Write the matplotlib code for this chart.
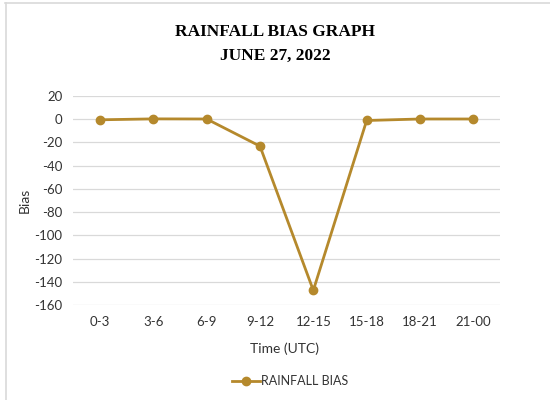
import matplotlib
matplotlib.use("Agg")
import matplotlib.pyplot as plt
from matplotlib.lines import Line2D

categories = ["0-3", "3-6", "6-9", "9-12", "12-15", "15-18", "18-21", "21-00"]
bias = [-0.5, 0.3, 0.2, -23.2, -147.4, -1.1, 0.2, 0.2]
yticks = [20, 0, -20, -40, -60, -80, -100, -120, -140, -160]

color = "#B5892C"
sans = ["Lato", "DejaVu Sans"]

fig = plt.figure(figsize=(5.5, 4), dpi=100)
ax = fig.add_axes([73.3/550, 1-305/400, (500-73.3)/550, (305-96)/400])

x = list(range(len(categories)))
ax.plot(x, bias, color=color, lw=2, marker="o", ms=6, label="RAINFALL BIAS", zorder=3)
ax.set_xlim(-0.5, len(categories)-0.5)
ax.set_ylim(-160, 20)
ax.set_yticks(yticks)
ax.set_xticks(x)
ax.set_xticklabels(categories, fontfamily=sans, fontsize=9.5, color="#333333")
ax.set_yticklabels([str(v) for v in yticks], fontfamily=sans, fontsize=9.5, color="#333333")
ax.tick_params(length=0, pad=8)
ax.grid(axis="y", color="#D9D9D9", lw=0.9)
ax.set_axisbelow(True)
for s in ax.spines.values():
    s.set_visible(False)

fig.text(25/550, 1-200/400, "Bias", rotation=90, ha="center", va="center",
         fontfamily=sans, fontsize=10, color="#333333")
fig.text(285/550, 1-349/400, "Time (UTC)", ha="center", va="center",
         fontfamily=sans, fontsize=10, color="#333333")
fig.text(275/550, 1-32/400, "RAINFALL BIAS GRAPH", ha="center", va="center",
         fontfamily="Liberation Serif", fontweight="bold", fontsize=12.5)
fig.text(275/550, 1-56/400, "JUNE 27, 2022", ha="center", va="center",
         fontfamily="Liberation Serif", fontweight="bold", fontsize=12.5)

leg = fig.legend(handles=[Line2D([], [], color=color, lw=2, marker="o", ms=6)],
                 labels=["RAINFALL BIAS"], loc="center", bbox_to_anchor=(290/550, 1-381/400),
                 frameon=False, prop={"family": sans, "size": 9}, handlelength=2.2,
                 handletextpad=0.1)
for t in leg.get_texts():
    t.set_color("#333333")

fig.add_artist(Line2D([5/550, 1], [1-2.5/400, 1-2.5/400], color="#D9D9D9", lw=1.2))
fig.add_artist(Line2D([5.5/550, 5.5/550], [0, 1-2.5/400], color="#D9D9D9", lw=1.2))

fig.savefig("out.png", dpi=100)
